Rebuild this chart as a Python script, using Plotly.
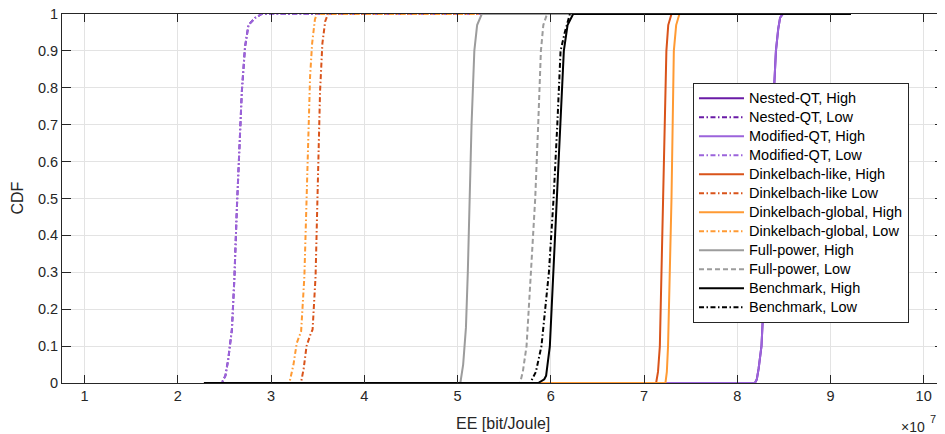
import plotly.graph_objects as go

SCALE = 1e7  # EE values below are in units of 1e7 bit/Joule

# ---- data (EE in 1e7 bit/Joule, CDF) ----
NESTED_HIGH_EE = [2.28, 8.19, 8.21, 8.23, 8.26, 8.30, 8.34, 8.38, 8.415, 8.44, 8.46, 8.49, 9.22]
NESTED_HIGH_CDF = [0, 0, 0.01, 0.04, 0.1, 0.3, 0.5, 0.7, 0.9, 0.96, 0.99, 1, 1]

NESTED_LOW_EE = [2.28, 2.47, 2.51, 2.54, 2.58, 2.607, 2.632, 2.66, 2.686, 2.72, 2.757, 2.83, 2.90, 9.22]
NESTED_LOW_CDF = [0, 0, 0.02, 0.064, 0.146, 0.289, 0.47, 0.65, 0.79, 0.91, 0.97, 0.99, 1, 1]

MODIFIED_HIGH_EE = [2.28, 8.19, 8.21, 8.23, 8.26, 8.30, 8.34, 8.38, 8.415, 8.44, 8.46, 8.49, 9.22]
MODIFIED_HIGH_CDF = [0, 0, 0.01, 0.04, 0.1, 0.3, 0.5, 0.7, 0.9, 0.96, 0.99, 1, 1]

MODIFIED_LOW_EE = [2.28, 2.47, 2.51, 2.54, 2.58, 2.607, 2.632, 2.66, 2.686, 2.72, 2.757, 2.83, 2.90, 9.22]
MODIFIED_LOW_CDF = [0, 0, 0.02, 0.064, 0.146, 0.289, 0.47, 0.65, 0.79, 0.91, 0.97, 0.99, 1, 1]

DLIKE_HIGH_EE = [2.28, 7.13, 7.15, 7.17, 7.205, 7.24, 7.26, 7.295, 9.22]
DLIKE_HIGH_CDF = [0, 0, 0.03, 0.1, 0.5, 0.9, 0.97, 1, 1]

DLIKE_LOW_EE = [2.28, 3.32, 3.35, 3.38, 3.42, 3.445, 3.477, 3.50, 3.525, 3.55, 3.58, 3.61, 9.22]
DLIKE_LOW_CDF = [0, 0, 0.04, 0.1, 0.13, 0.145, 0.289, 0.52, 0.79, 0.92, 0.98, 1, 1]

DGLOBAL_HIGH_EE = [2.28, 7.23, 7.245, 7.258, 7.295, 7.32, 7.345, 7.38, 9.22]
DGLOBAL_HIGH_CDF = [0, 0, 0.03, 0.1, 0.5, 0.9, 0.97, 1, 1]

DGLOBAL_LOW_EE = [2.28, 3.196, 3.24, 3.275, 3.30, 3.322, 3.357, 3.389, 3.418, 3.44, 3.47, 3.49, 9.22]
DGLOBAL_LOW_CDF = [0, 0, 0.05, 0.108, 0.125, 0.14, 0.289, 0.56, 0.83, 0.92, 0.985, 1, 1]

FULL_HIGH_EE = [2.28, 5.03, 5.06, 5.09, 5.11, 5.13, 5.15, 5.18, 5.21, 5.26, 9.22]
FULL_HIGH_CDF = [0, 0, 0.05, 0.15, 0.3, 0.5, 0.7, 0.9, 0.97, 1, 1]

FULL_LOW_EE = [2.28, 5.67, 5.70, 5.74, 5.787, 5.833, 5.865, 5.894, 5.92, 5.96, 9.22]
FULL_LOW_CDF = [0, 0, 0.03, 0.1, 0.3, 0.5, 0.7, 0.9, 0.97, 1, 1]

BENCH_HIGH_EE = [2.28, 5.865, 5.93, 5.95, 5.99, 6.026, 6.07, 6.10, 6.14, 6.18, 6.24, 9.22]
BENCH_HIGH_CDF = [0, 0, 0.01, 0.02, 0.1, 0.3, 0.5, 0.7, 0.9, 0.97, 1, 1]

BENCH_LOW_EE = [2.28, 5.78, 5.84, 5.90, 5.98, 6.03, 6.07, 6.105, 6.15, 6.205, 9.22]
BENCH_LOW_CDF = [0, 0, 0.03, 0.1, 0.3, 0.5, 0.7, 0.9, 0.95, 1, 1]

X_TICK_VALUES = [1, 2, 3, 4, 5, 6, 7, 8, 9, 10]
X_TICK_LABELS = ["1", "2", "3", "4", "5", "6", "7", "8", "9", "10"]
Y_TICK_VALUES = [0, 0.1, 0.2, 0.3, 0.4, 0.5, 0.6, 0.7, 0.8, 0.9, 1]
Y_TICK_LABELS = ["0", "0.1", "0.2", "0.3", "0.4", "0.5", "0.6", "0.7", "0.8", "0.9", "1"]

# ---- styles ----
C_NESTED = "#6a1ba6"
C_MODIFIED = "#9b63db"
C_DLIKE = "#d9531a"
C_DGLOBAL = "#ff9a33"
C_FULL = "#9c9c9c"
C_BENCH = "#000000"
DASHDOT = "5px,2.5px,1.5px,2.5px"
DASHED = "5px,3px"
LW = 2

series = [
    ("Nested-QT, High", NESTED_HIGH_EE, NESTED_HIGH_CDF, C_NESTED, "solid"),
    ("Nested-QT, Low", NESTED_LOW_EE, NESTED_LOW_CDF, C_NESTED, DASHDOT),
    ("Modified-QT, High", MODIFIED_HIGH_EE, MODIFIED_HIGH_CDF, C_MODIFIED, "solid"),
    ("Modified-QT, Low", MODIFIED_LOW_EE, MODIFIED_LOW_CDF, C_MODIFIED, DASHDOT),
    ("Dinkelbach-like, High", DLIKE_HIGH_EE, DLIKE_HIGH_CDF, C_DLIKE, "solid"),
    ("Dinkelbach-like Low", DLIKE_LOW_EE, DLIKE_LOW_CDF, C_DLIKE, DASHDOT),
    ("Dinkelbach-global, High", DGLOBAL_HIGH_EE, DGLOBAL_HIGH_CDF, C_DGLOBAL, "solid"),
    ("Dinkelbach-global, Low", DGLOBAL_LOW_EE, DGLOBAL_LOW_CDF, C_DGLOBAL, DASHDOT),
    ("Full-power, High", FULL_HIGH_EE, FULL_HIGH_CDF, C_FULL, "solid"),
    ("Full-power, Low", FULL_LOW_EE, FULL_LOW_CDF, C_FULL, DASHED),
    ("Benchmark, High", BENCH_HIGH_EE, BENCH_HIGH_CDF, C_BENCH, "solid"),
    ("Benchmark, Low", BENCH_LOW_EE, BENCH_LOW_CDF, C_BENCH, DASHDOT),
]

FONT = "Liberation Sans, Arial, Helvetica, sans-serif"
TXT = "#262626"

fig = go.Figure()
for name, xs, ys, color, dash in series:
    fig.add_trace(go.Scatter(
        x=[v * SCALE for v in xs], y=ys, mode="lines",
        name='<span style="font-size:14.5px">' + name + "</span>",
        line=dict(color=color, width=LW, dash=dash),
    ))

axis_common = dict(
    showline=True, linecolor=TXT, linewidth=1, mirror="allticks",
    ticks="inside", tickcolor=TXT, tickwidth=1, automargin=False,
    ticklabeloverflow="allow",
    showgrid=True, gridcolor="#e3e3e3", gridwidth=1, zeroline=False,
    tickfont=dict(family=FONT, size=14.5, color=TXT),
)

# the page body adds an 8px offset, so the figure is 8px smaller on each axis
fig.update_layout(
    width=937, height=426,
    margin=dict(l=54, r=1, t=6, b=51),
    paper_bgcolor="white", plot_bgcolor="white",
    font=dict(family=FONT, size=14, color=TXT),
    xaxis=dict(
        range=[0.757 * SCALE, 10.218 * SCALE],
        tickvals=[v * SCALE for v in X_TICK_VALUES], ticktext=X_TICK_LABELS,
        ticklen=8,
        **axis_common,
    ),
    yaxis=dict(
        range=[0, 1],
        tickvals=Y_TICK_VALUES, ticktext=Y_TICK_LABELS,
        ticklen=9,
        **axis_common,
    ),
    legend=dict(
        x=0.7154, y=0.8138, xanchor="left", yanchor="top",
        bgcolor="white", bordercolor=TXT, borderwidth=1,
        font=dict(family=FONT, size=12.1, color="#000000"),
        itemwidth=45, tracegroupgap=0,
    ),
    showlegend=True,
)

# axis titles
fig.add_annotation(
    xref="paper", yref="paper", x=0.5, y=-0.111, xanchor="center", yanchor="middle",
    text="EE [bit/Joule]", showarrow=False,
    font=dict(family=FONT, size=16, color=TXT),
)
fig.add_annotation(
    xref="paper", yref="paper", x=-0.051, y=0.5, xanchor="center", yanchor="middle",
    text="CDF", showarrow=False, textangle=-90,
    font=dict(family=FONT, size=16, color=TXT),
)
# exponent label: "×10" with a raised "7"
fig.add_annotation(
    xref="paper", yref="paper", x=0.9807, y=-0.119, xanchor="right", yanchor="middle",
    text="×10", showarrow=False,
    font=dict(family=FONT, size=14, color=TXT),
)
fig.add_annotation(
    xref="paper", yref="paper", x=0.9815, y=-0.0975, xanchor="left", yanchor="middle",
    text="7", showarrow=False,
    font=dict(family=FONT, size=11, color=TXT),
)

fig.write_html("out.html")
